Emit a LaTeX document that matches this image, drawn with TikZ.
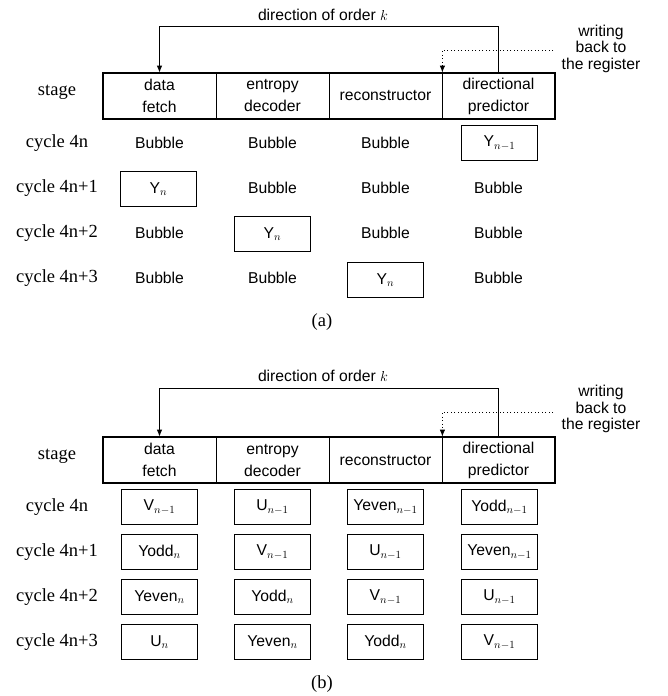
\documentclass[tikz,border=0pt]{standalone}
\usepackage{fontspec}
\setmainfont{Liberation Serif}
\setsansfont{Liberation Sans}
\usetikzlibrary{arrows.meta}
\begin{document}
\begin{tikzpicture}[x=1pt,y=-1pt,
  sf/.style={font=\fontsize{15.7}{17}\selectfont\sffamily},
  lbl/.style={font=\fontsize{18.5}{20}\selectfont\rmfamily, inner sep=0pt},
  stagecell/.style={draw, line width=0.8pt, minimum width=113pt, minimum height=46pt, inner sep=0pt, align=center, font=\fontsize{15.7}{22}\selectfont\sffamily},
  cellbox/.style={sf, draw, line width=1.3pt, minimum width=76pt, minimum height=35pt, inner sep=0pt},
  plaincell/.style={sf, inner sep=0pt},
  outerbox/.style={line width=2pt},
  conn/.style={line width=0.9pt},
  arr/.style={-{Latex[length=7pt,width=5.5pt]}},
  dotline/.style={line width=0.9pt, dash pattern=on 1pt off 2.5pt},
  note/.style={font=\fontsize{15.7}{16.5}\selectfont\sffamily, align=center, inner sep=0pt}
]
\useasboundingbox (0,0) rectangle (667,696);

% ---------------- part (a) ----------------
\node[stagecell] (a-s1) at (159.5,96) {data\\fetch};
\node[stagecell] (a-s2) at (272.5,96) {entropy\\decoder};
\node[stagecell] (a-s3) at (385.5,96) {reconstructor};
\node[stagecell] (a-s4) at (498.5,96) {directional\\predictor};
\draw[outerbox] (a-s1.north west) rectangle (a-s4.south east);
\node[lbl] (a-stage) at (57,92) {stage};

\node[sf, inner sep=0pt] (a-dir) at (323,15) {direction of order $k$};
\draw[conn,arr] (a-s4.north) -- ++(0,-46) -| (a-s1.north);
\coordinate (a-wb) at (553,50);
\draw[dotline,arr] (a-wb) -| (a-s3.north east);
\node[note] (a-note) at (601,48.5) {writing\\back to\\the register};

\node[lbl] (a-c0) at (57,143) {cycle 4n};
\node[lbl] (a-c1) at (57,188) {cycle 4n+1};
\node[lbl] (a-c2) at (57,233) {cycle 4n+2};
\node[lbl] (a-c3) at (57,278) {cycle 4n+3};

\node[plaincell] (a-00) at (159.5,143) {Bubble};
\node[plaincell] (a-01) at (272.5,143) {Bubble};
\node[plaincell] (a-02) at (385.5,143) {Bubble};
\node[cellbox]   (a-03) at (499.5,143) {Y$_{n-1}$};

\node[cellbox]   (a-10) at (158.5,189) {Y$_{n}$};
\node[plaincell] (a-11) at (272.5,188) {Bubble};
\node[plaincell] (a-12) at (385.5,188) {Bubble};
\node[plaincell] (a-13) at (498.5,188) {Bubble};

\node[plaincell] (a-20) at (159.5,233) {Bubble};
\node[cellbox]   (a-21) at (272.5,234) {Y$_{n}$};
\node[plaincell] (a-22) at (385.5,233) {Bubble};
\node[plaincell] (a-23) at (498.5,233) {Bubble};

\node[plaincell] (a-30) at (159.5,278) {Bubble};
\node[plaincell] (a-31) at (272.5,278) {Bubble};
\node[cellbox]   (a-32) at (385.5,280) {Y$_{n}$};
\node[plaincell] (a-33) at (498.5,278) {Bubble};

\node[lbl] (a-cap) at (322,322) {(a)};

% ---------------- part (b) ----------------
\begin{scope}[yshift=-364pt]
\node[stagecell] (b-s1) at (159.5,96) {data\\fetch};
\node[stagecell] (b-s2) at (272.5,96) {entropy\\decoder};
\node[stagecell] (b-s3) at (385.5,96) {reconstructor};
\node[stagecell] (b-s4) at (498.5,96) {directional\\predictor};
\draw[outerbox] (b-s1.north west) rectangle (b-s4.south east);
\node[lbl] (b-stage) at (57,92) {stage};

\node[sf, inner sep=0pt] (b-dir) at (323,12) {direction of order $k$};
\draw[conn,arr] (b-s4.north) -- ++(0,-48) -| (b-s1.north);
\coordinate (b-wb) at (553,48);
\draw[dotline,arr] (b-wb) -| (b-s3.north east);
\node[note] (b-note) at (601,45) {writing\\back to\\the register};

\node[lbl] (b-c0) at (57,143) {cycle 4n};
\node[lbl] (b-c1) at (57,188) {cycle 4n+1};
\node[lbl] (b-c2) at (57,233) {cycle 4n+2};
\node[lbl] (b-c3) at (57,278) {cycle 4n+3};

\node[cellbox] (b-00) at (159.5,143) {V$_{n-1}$};
\node[cellbox] (b-01) at (272.5,143) {U$_{n-1}$};
\node[cellbox] (b-02) at (385.5,143) {Yeven$_{n-1}$};
\node[cellbox] (b-03) at (499.5,143) {Yodd$_{n-1}$};

\node[cellbox] (b-10) at (159.5,188) {Yodd$_{n}$};
\node[cellbox] (b-11) at (272.5,188) {V$_{n-1}$};
\node[cellbox] (b-12) at (385.5,188) {U$_{n-1}$};
\node[cellbox] (b-13) at (499.5,188) {Yeven$_{n-1}$};

\node[cellbox] (b-20) at (159.5,233) {Yeven$_{n}$};
\node[cellbox] (b-21) at (272.5,233) {Yodd$_{n}$};
\node[cellbox] (b-22) at (385.5,233) {V$_{n-1}$};
\node[cellbox] (b-23) at (499.5,233) {U$_{n-1}$};

\node[cellbox] (b-30) at (159.5,278) {U$_{n}$};
\node[cellbox] (b-31) at (272.5,278) {Yeven$_{n}$};
\node[cellbox] (b-32) at (385.5,278) {Yodd$_{n}$};
\node[cellbox] (b-33) at (499.5,278) {V$_{n-1}$};

\node[lbl] (b-cap) at (322,320) {(b)};
\end{scope}
\end{tikzpicture}
\end{document}
